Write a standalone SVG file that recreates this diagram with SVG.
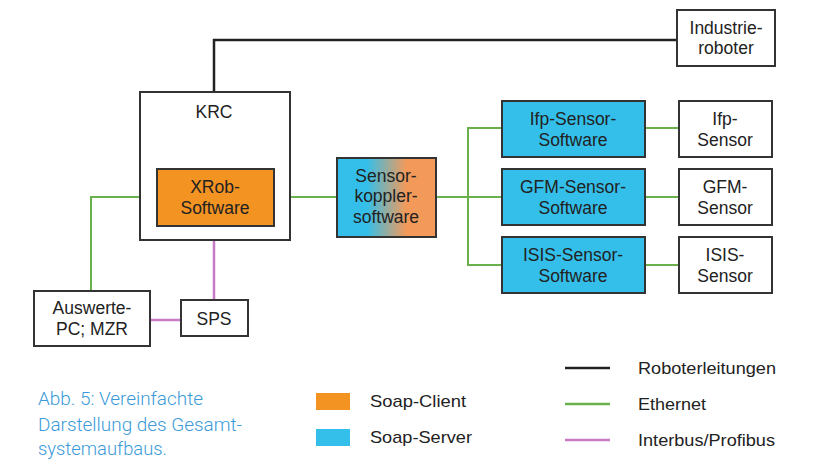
<svg xmlns="http://www.w3.org/2000/svg" width="814" height="462" viewBox="0 0 814 462">
<defs>
<style>
.box{fill:#fff;stroke:#333;stroke-width:2}
.orange{fill:#f39322;stroke:#333;stroke-width:2}
.blue{fill:#33bfea;stroke:#333;stroke-width:2}
.t{font-family:"Liberation Sans",Arial,sans-serif;font-size:17.5px;fill:#222;text-anchor:middle}
.lg{font-family:"Liberation Sans",Arial,sans-serif;font-size:17px;fill:#222}
.cap{font-family:Roboto,"Liberation Sans",sans-serif;font-size:17.5px;font-weight:300;fill:#3a9ad9}
.blk{stroke:#222;stroke-width:2.5;fill:none}
.grn{stroke:#6ab04c;stroke-width:2;fill:none}
.pur{stroke:#c77bc4;stroke-width:2.5;fill:none}
</style>
<linearGradient id="grad" x1="0" y1="0" x2="1" y2="0">
<stop offset="0" stop-color="#33bfea"/>
<stop offset="0.3" stop-color="#33bfea"/>
<stop offset="0.7" stop-color="#f39a5a"/>
<stop offset="1" stop-color="#f39a5a"/>
</linearGradient>
</defs>
<g id="connectors">
<polyline class="blk" points="214,92 214,40 677,40"/>
<polyline class="grn" points="91,291 91,197 157,197"/>
<line class="grn" x1="274" y1="197" x2="337" y2="197"/>
<line class="grn" x1="436" y1="197" x2="502" y2="197"/>
<polyline class="grn" points="502,128 468,128 468,265 502,265"/>
<line class="grn" x1="645" y1="128" x2="679" y2="128"/>
<line class="grn" x1="645" y1="197" x2="679" y2="197"/>
<line class="grn" x1="645" y1="265" x2="679" y2="265"/>
<line class="pur" x1="214" y1="240" x2="214" y2="300"/>
<line class="pur" x1="150" y1="320" x2="181" y2="320"/>
</g>
<g id="industrieroboter">
<rect class="box" x="677" y="10" width="98" height="56"/>
<text class="t" x="726" y="34" font-size="16">Industrie-</text>
<text class="t" x="726" y="54" font-size="16">roboter</text>
</g>
<g id="krc">
<rect class="box" x="140" y="92" width="150" height="148"/>
<text class="t" x="214" y="118">KRC</text>
</g>
<g id="xrob">
<rect class="orange" x="157" y="169" width="117" height="57"/>
<text class="t" x="215" y="193">XRob-</text>
<text class="t" x="215" y="214">Software</text>
</g>
<g id="sensorkoppler">
<rect x="337" y="158" width="99" height="79" fill="url(#grad)" stroke="#333" stroke-width="2"/>
<text class="t" x="386" y="182">Sensor-</text>
<text class="t" x="386" y="202">koppler-</text>
<text class="t" x="386" y="223">software</text>
</g>
<g id="ifp-software">
<rect class="blue" x="502" y="101" width="143" height="56"/>
<text class="t" x="573" y="125">Ifp-Sensor-</text>
<text class="t" x="573" y="146">Software</text>
</g>
<g id="gfm-software">
<rect class="blue" x="502" y="169" width="143" height="56"/>
<text class="t" x="573" y="193">GFM-Sensor-</text>
<text class="t" x="573" y="214">Software</text>
</g>
<g id="isis-software">
<rect class="blue" x="502" y="237" width="143" height="56"/>
<text class="t" x="573" y="261">ISIS-Sensor-</text>
<text class="t" x="573" y="282">Software</text>
</g>
<g id="ifp-sensor">
<rect class="box" x="679" y="101" width="93" height="56"/>
<text class="t" x="725" y="125">Ifp-</text>
<text class="t" x="725" y="146">Sensor</text>
</g>
<g id="gfm-sensor">
<rect class="box" x="679" y="169" width="93" height="56"/>
<text class="t" x="725" y="193">GFM-</text>
<text class="t" x="725" y="214">Sensor</text>
</g>
<g id="isis-sensor">
<rect class="box" x="679" y="237" width="93" height="56"/>
<text class="t" x="725" y="261">ISIS-</text>
<text class="t" x="725" y="282">Sensor</text>
</g>
<g id="auswerte-pc">
<rect class="box" x="34" y="291" width="116" height="55"/>
<text class="t" x="92" y="314">Auswerte-</text>
<text class="t" x="92" y="335">PC; MZR</text>
</g>
<g id="sps">
<rect class="box" x="181" y="300" width="67" height="36"/>
<text class="t" x="214" y="325">SPS</text>
</g>
<g id="legend">
<rect x="316" y="393" width="34" height="17" fill="#f39322"/>
<text class="lg" x="370" y="407" textLength="96" lengthAdjust="spacingAndGlyphs">Soap-Client</text>
<rect x="316" y="429" width="34" height="17" fill="#33bfea"/>
<text class="lg" x="370" y="443" textLength="102" lengthAdjust="spacingAndGlyphs">Soap-Server</text>
<line x1="565" y1="368" x2="610" y2="368" stroke="#222" stroke-width="2.5"/>
<text class="lg" x="638" y="374" textLength="138" lengthAdjust="spacingAndGlyphs">Roboterleitungen</text>
<line x1="565" y1="404" x2="610" y2="404" stroke="#6ab04c" stroke-width="2.5"/>
<text class="lg" x="638" y="410" textLength="68" lengthAdjust="spacingAndGlyphs">Ethernet</text>
<line x1="565" y1="440" x2="610" y2="440" stroke="#c77bc4" stroke-width="2.5"/>
<text class="lg" x="638" y="446" textLength="137" lengthAdjust="spacingAndGlyphs">Interbus/Profibus</text>
</g>
<g id="caption">
<text class="cap" x="38" y="405" textLength="165" lengthAdjust="spacingAndGlyphs">Abb. 5: Vereinfachte</text>
<text class="cap" x="38" y="431" textLength="204" lengthAdjust="spacingAndGlyphs">Darstellung des Gesamt-</text>
<text class="cap" x="38" y="455" textLength="129" lengthAdjust="spacingAndGlyphs">systemaufbaus.</text>
</g>
</svg>
